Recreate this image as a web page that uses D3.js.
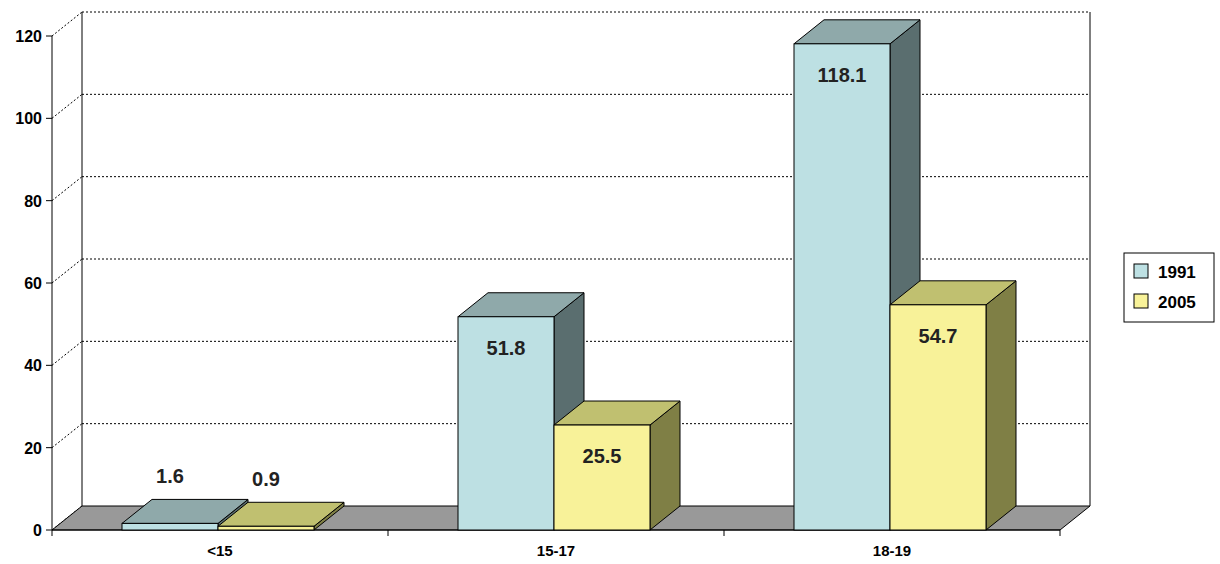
<!DOCTYPE html><html><head><meta charset="utf-8">
<script src="https://cdn.jsdelivr.net/npm/d3@7"></script>
<style>body{margin:0;background:#fff}text{font-family:Arial,"Liberation Sans",sans-serif;font-weight:bold}</style></head><body>
<svg id="c" width="1220" height="564"></svg>
<script>
const categories=["<15","15-17","18-19"];
const series=["1991","2005"];
const v1991=[1.6,51.8,118.1];
const v2005=[0.9,25.5,54.7];
const yTicks=[0,20,40,60,80,100,120];
const colors={"1991":{f:"#bde0e3",t:"#8fa9aa",s:"#5a6e6f"},"2005":{f:"#f8f299",t:"#c0c070",s:"#7f7f45"}};
const svg=d3.select("#c");
const DX=30,DY=-24;
const y=d3.scaleLinear().domain([0,120]).range([530,36]);
const x=d3.scaleBand().domain(categories).range([52,1060]);
const xs=d3.scaleBand().domain(series).range([70,262]);
// back wall
svg.append("path").attr("d",`M${52+DX},${530+DY}V${36+DY}`).attr("stroke","#000").attr("fill","none");
svg.append("path").attr("d",`M${1060+DX},${530+DY}V${36+DY}`).attr("stroke","#000").attr("fill","none");
yTicks.forEach(t=>{
 if(t>0) svg.append("line").attr("x1",52+DX).attr("x2",1060+DX).attr("y1",y(t)+DY).attr("y2",y(t)+DY).attr("stroke","#000").attr("stroke-dasharray","2,2");
 svg.append("line").attr("x1",52).attr("x2",52+DX).attr("y1",y(t)).attr("y2",y(t)+DY).attr("stroke","#000").attr("stroke-dasharray","2,2");
 svg.append("line").attr("x1",46).attr("x2",52).attr("y1",y(t)).attr("y2",y(t)).attr("stroke","#000");
 svg.append("text").attr("x",42).attr("y",y(t)+6).attr("text-anchor","end").attr("font-size",16).text(t);
});
// floor
svg.append("path").attr("d",`M52,530L${1060},530L${1060+DX},${530+DY}L${52+DX},${530+DY}Z`).attr("fill","#999").attr("stroke","#000");
svg.append("line").attr("x1",52).attr("x2",52).attr("y1",36).attr("y2",530).attr("stroke","#000");
svg.append("line").attr("x1",52).attr("x2",1060).attr("y1",530).attr("y2",530).attr("stroke","#000");
[0,1,2,3].forEach(i=>{const xx=52+i*x.bandwidth();svg.append("line").attr("x1",xx).attr("x2",xx).attr("y1",530).attr("y2",536).attr("stroke","#000");});
categories.forEach(c=>svg.append("text").attr("x",x(c)+x.bandwidth()/2).attr("y",556).attr("text-anchor","middle").attr("font-size",15).text(c));
// bars
const bars=[];
categories.forEach((c,i)=>{bars.push({c,s:"1991",v:v1991[i]});bars.push({c,s:"2005",v:v2005[i]});});
bars.forEach(b=>{
 const x0=x(b.c)+xs(b.s),x1=x0+xs.bandwidth(),y0=y(0),y1=y(b.v),col=colors[b.s];
 svg.append("path").attr("d",`M${x1},${y0}L${x1+DX},${y0+DY}L${x1+DX},${y1+DY}L${x1},${y1}Z`).attr("fill",col.s).attr("stroke","#000");
 svg.append("path").attr("d",`M${x0},${y1}L${x0+DX},${y1+DY}L${x1+DX},${y1+DY}L${x1},${y1}Z`).attr("fill",col.t).attr("stroke","#000");
 svg.append("rect").attr("x",x0).attr("y",y1).attr("width",x1-x0).attr("height",y0-y1).attr("fill",col.f).attr("stroke","#000");
 const inside=b.v>10;
 svg.append("text").attr("x",(x0+x1)/2).attr("y",inside?y1+38:y1-40).attr("text-anchor","middle").attr("font-size",20).attr("fill","#222").text(b.v.toFixed(1));
});
// legend
svg.append("rect").attr("x",1124).attr("y",253).attr("width",90).attr("height",69).attr("fill","#fff").attr("stroke","#000");
series.forEach((s,i)=>{
 svg.append("rect").attr("x",1134).attr("y",264+i*30).attr("width",14).attr("height",14).attr("fill",colors[s].f).attr("stroke","#000");
 svg.append("text").attr("x",1158).attr("y",278+i*30).attr("font-size",17).text(s);
});
</script></body></html>
